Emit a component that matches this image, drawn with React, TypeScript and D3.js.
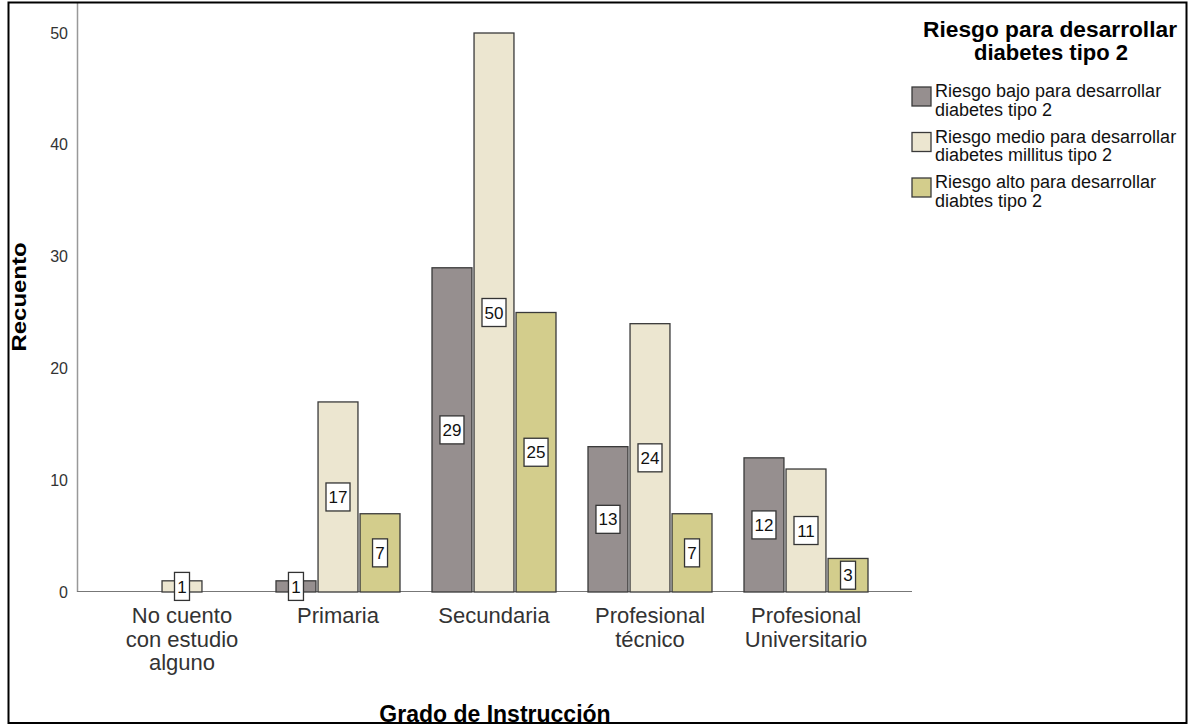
import React from "react";
import * as d3 from "d3";

const categories = [
  ["No cuento", "con estudio", "alguno"],
  ["Primaria"],
  ["Secundaria"],
  ["Profesional", "técnico"],
  ["Profesional", "Universitario"],
];
const seriesNames = [
  ["Riesgo bajo para desarrollar", "diabetes tipo 2"],
  ["Riesgo medio para desarrollar", "diabetes millitus tipo 2"],
  ["Riesgo alto para desarrollar", "diabtes tipo 2"],
];
const bajo = [0, 1, 29, 13, 12];
const medio = [1, 17, 50, 24, 11];
const alto = [0, 7, 25, 7, 3];
const seriesValues = [bajo, medio, alto];
const colors = ["#968f8f", "#ece6d0", "#d3cd8c"];
const yTicks = [0, 10, 20, 30, 40, 50];

export default function App() {
  const W = 1191, H = 727;
  const y = d3.scaleLinear().domain([0, 50]).range([592, 33]);
  const x0 = d3.scaleBand().domain(categories.map((_, i) => String(i))).range([104, 884]).padding(0);
  const x1 = d3.scaleBand().domain(["0", "1", "2"]).range([0, 124]).paddingInner(0.05);
  const font = "Liberation Sans, Arial, sans-serif";
  return (
    <svg width={W} height={H} style={{ position: "absolute", left: 0, top: 0, background: "#fff" }} fontFamily={font}>
      <rect x={0} y={0} width={W} height={H} fill="#fff" />
      {/* axes */}
      <line x1={77.5} x2={77.5} y1={3} y2={592} stroke="#999" strokeWidth={1.5} />
      <line x1={77} x2={912} y1={591.5} y2={591.5} stroke="#777" strokeWidth={1.2} />
      {yTicks.map((t) => (
        <text key={t} x={68} y={y(t)} dy="0.35em" textAnchor="end" fontSize={16} fill="#333">{t}</text>
      ))}
      {/* bars */}
      {seriesValues.map((vals, s) =>
        vals.map((v, i) => {
          if (v === 0) return null;
          const cx = (x0(String(i)) as number) + x0.bandwidth() / 2 - 62 + (x1(String(s)) as number);
          const bw = x1.bandwidth();
          return (
            <rect key={`b${s}-${i}`} x={cx} y={y(v)} width={bw} height={y(0) - y(v)} fill={colors[s]} stroke="#3a3a3a" strokeWidth={1.3} />
          );
        })
      )}
      {/* labels */}
      {seriesValues.map((vals, s) =>
        vals.map((v, i) => {
          if (v === 0) return null;
          const bx = (x0(String(i)) as number) + x0.bandwidth() / 2 - 62 + (x1(String(s)) as number) + x1.bandwidth() / 2;
          const cy = y(v / 2);
          const txt = String(v);
          const bw = txt.length > 1 ? 24 : 15;
          return (
            <g key={`l${s}-${i}`}>
              <rect x={bx - bw / 2} y={cy - 14} width={bw} height={28} fill="#fff" stroke="#333" strokeWidth={1.3} />
              <text x={bx} y={cy} dy="0.36em" textAnchor="middle" fontSize={17} fill="#111">{txt}</text>
            </g>
          );
        })
      )}
      {/* category labels */}
      {categories.map((lines, i) => (
        <text key={`c${i}`} textAnchor="middle" fontSize={22} fill="#333">
          {lines.map((ln, k) => (
            <tspan key={k} x={(x0(String(i)) as number) + x0.bandwidth() / 2} y={623 + k * 23.5}>{ln}</tspan>
          ))}
        </text>
      ))}
      {/* axis titles */}
      <text x={495} y={722} textAnchor="middle" fontSize={23} fontWeight="bold" fill="#000">Grado de Instrucción</text>
      <text transform="translate(26,297) rotate(-90)" textAnchor="middle" fontSize={21} fontWeight="bold" fill="#000" textLength={109} lengthAdjust="spacingAndGlyphs">Recuento</text>
      {/* legend */}
      <text textAnchor="middle" fontSize={22} fontWeight="bold" fill="#000">
        <tspan x={1050} y={37} textLength={254} lengthAdjust="spacingAndGlyphs">Riesgo para desarrollar</tspan>
        <tspan x={1051} y={60}>diabetes tipo 2</tspan>
      </text>
      {seriesNames.map((lines, s) => {
        const top = 87 + s * 45.5;
        return (
          <g key={`lg${s}`}>
            <rect x={912} y={top} width={19} height={19} fill={colors[s]} stroke="#3a3a3a" strokeWidth={1.3} />
            <text fontSize={18} fill="#111">
              {lines.map((ln, k) => (
                <tspan key={k} x={935} y={top + 10 + k * 18.5}>{ln}</tspan>
              ))}
            </text>
          </g>
        );
      })}
      {/* outer frame drawn last */}
      <rect x={0} y={723} width={W} height={4} fill="#fff" />
      <rect x={1187} y={0} width={4} height={H} fill="#fff" />
      <rect x={8.5} y={2.5} width={1178} height={720.5} fill="none" stroke="#000" strokeWidth={2} />
    </svg>
  );
}
